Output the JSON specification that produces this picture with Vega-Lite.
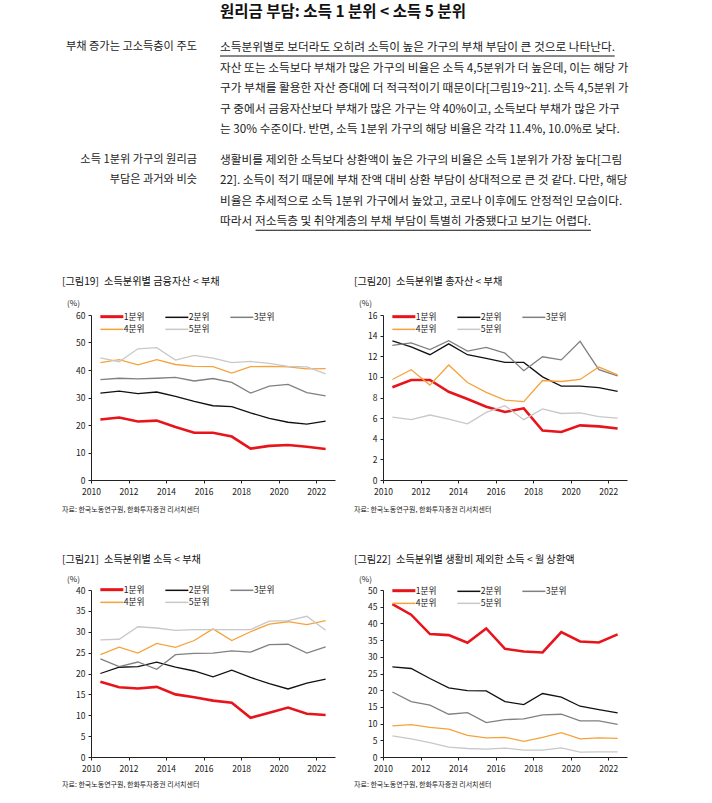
{
  "$schema": "https://vega.github.io/schema/vega-lite/v6.json",
  "background": "white",
  "padding": {"left": 62, "top": 0, "right": 10, "bottom": 10},
  "autosize": {"type": "pad"},
  "datasets": {
    "txt": [
      {"part": "header", "line": -0.71, "text": "원리금 부담: 소득 1 분위 < 소득 5 분위"},
      {"part": "label", "line": 1, "text": "부채 증가는 고소득층이 주도"},
      {"part": "body", "line": 1, "text": "소득분위별로 보더라도 오히려 소득이 높은 가구의 부채 부담이 큰 것으로 나타난다."},
      {"part": "body", "line": 2, "text": "자산 또는 소득보다 부채가 많은 가구의 비율은 소득 4,5분위가 더 높은데, 이는 해당 가"},
      {"part": "body", "line": 3, "text": "구가 부채를 활용한 자산 증대에 더 적극적이기 때문이다[그림19~21]. 소득 4,5분위 가"},
      {"part": "body", "line": 4, "text": "구 중에서 금융자산보다 부채가 많은 가구는 약 40%이고, 소득보다 부채가 많은 가구"},
      {"part": "body", "line": 5, "text": "는 30% 수준이다. 반면, 소득 1분위 가구의 해당 비율은 각각 11.4%, 10.0%로 낮다."},
      {"part": "label", "line": 6.5, "text": "소득 1분위 가구의 원리금"},
      {"part": "label", "line": 7.5, "text": "부담은 과거와 비슷"},
      {"part": "body", "line": 6.5, "text": "생활비를 제외한 소득보다 상환액이 높은 가구의 비율은 소득 1분위가 가장 높다[그림"},
      {"part": "body", "line": 7.5, "text": "22]. 소득이 적기 때문에 부채 잔액 대비 상환 부담이 상대적으로 큰 것 같다. 다만, 해당"},
      {"part": "body", "line": 8.5, "text": "비율은 추세적으로 소득 1분위 가구에서 높았고, 코로나 이후에도 안정적인 모습이다."},
      {"part": "body", "line": 9.5, "text": "따라서 저소득층 및 취약계층의 부채 부담이 특별히 가중됐다고 보기는 어렵다."}
    ],
    "ul": [
      {"line": 1, "from": 0, "to": 0.965},
      {"line": 9.5, "from": 0.087, "to": 0.907}
    ],
    "d19": [
      {"year": 2010, "1분위": 22.0, "2분위": 31.6, "3분위": 36.5, "4분위": 42.7, "5분위": 44.4},
      {"year": 2011, "1분위": 22.7, "2분위": 32.3, "3분위": 37.0, "4분위": 43.8, "5분위": 43.0},
      {"year": 2012, "1분위": 21.3, "2분위": 31.4, "3분위": 36.8, "4분위": 41.9, "5분위": 47.7},
      {"year": 2013, "1분위": 21.6, "2분위": 32.0, "3분위": 37.0, "4분위": 43.8, "5분위": 48.1},
      {"year": 2014, "1분위": 19.3, "2분위": 30.4, "3분위": 37.3, "4분위": 42.0, "5분위": 43.6},
      {"year": 2015, "1분위": 17.2, "2분위": 28.6, "3분위": 36.0, "4분위": 41.3, "5분위": 45.3},
      {"year": 2016, "1분위": 17.2, "2분위": 27.0, "3분위": 36.9, "4분위": 41.2, "5분위": 44.3},
      {"year": 2017, "1분위": 15.8, "2분위": 26.7, "3분위": 35.5, "4분위": 38.9, "5분위": 42.7},
      {"year": 2018, "1분위": 11.4, "2분위": 24.4, "3분위": 31.6, "4분위": 41.2, "5분위": 43.1},
      {"year": 2019, "1분위": 12.4, "2분위": 22.4, "3분위": 34.1, "4분위": 41.3, "5분위": 42.4},
      {"year": 2020, "1분위": 12.7, "2분위": 21.0, "3분위": 34.8, "4분위": 41.1, "5분위": 41.3},
      {"year": 2021, "1분위": 12.1, "2분위": 20.3, "3분위": 31.8, "4분위": 40.4, "5분위": 41.1},
      {"year": 2022, "1분위": 11.3, "2분위": 21.4, "3분위": 30.6, "4분위": 40.5, "5분위": 38.6}
    ],
    "d20": [
      {"year": 2010, "1분위": 9.0, "2분위": 13.5, "3분위": 13.05, "4분위": 9.75, "5분위": 6.1},
      {"year": 2011, "1분위": 9.7, "2분위": 12.9, "3분위": 13.3, "4분위": 10.7, "5분위": 5.85},
      {"year": 2012, "1분위": 9.7, "2분위": 12.15, "3분위": 12.65, "4분위": 9.2, "5분위": 6.3},
      {"year": 2013, "1분위": 8.55, "2분위": 13.2, "3분위": 13.5, "4분위": 11.15, "5분위": 5.9},
      {"year": 2014, "1분위": 7.85, "2분위": 12.15, "3분위": 12.5, "4분위": 9.45, "5분위": 5.45},
      {"year": 2015, "1분위": 7.1, "2분위": 11.8, "3분위": 12.85, "4분위": 8.5, "5분위": 6.55},
      {"year": 2016, "1분위": 6.6, "2분위": 11.4, "3분위": 12.3, "4분위": 7.75, "5분위": 7.2},
      {"year": 2017, "1분위": 6.95, "2분위": 11.4, "3분위": 10.6, "4분위": 7.6, "5분위": 5.85},
      {"year": 2018, "1분위": 4.8, "2분위": 10.0, "3분위": 11.95, "4분위": 9.65, "5분위": 6.9},
      {"year": 2019, "1분위": 4.65, "2분위": 9.1, "3분위": 11.65, "4분위": 9.55, "5분위": 6.45},
      {"year": 2020, "1분위": 5.3, "2분위": 9.1, "3분위": 13.45, "4분위": 9.75, "5분위": 6.5},
      {"year": 2021, "1분위": 5.2, "2분위": 8.95, "3분위": 10.7, "4분위": 10.95, "5분위": 6.15},
      {"year": 2022, "1분위": 5.0, "2분위": 8.6, "3분위": 10.1, "4분위": 10.2, "5분위": 6.0}
    ],
    "d21": [
      {"year": 2010, "1분위": 18.0, "2분위": 20.0, "3분위": 23.5, "4분위": 24.5, "5분위": 28.05},
      {"year": 2011, "1분위": 16.7, "2분위": 21.5, "3분위": 21.65, "4분위": 26.3, "5분위": 28.2},
      {"year": 2012, "1분위": 16.4, "2분위": 21.65, "3분위": 22.75, "4분위": 24.9, "5분위": 31.2},
      {"year": 2013, "1분위": 16.8, "2분위": 22.7, "3분위": 21.0, "4분위": 27.2, "5분위": 30.9},
      {"year": 2014, "1분위": 15.0, "2분위": 21.5, "3분위": 24.5, "4분위": 26.25, "5분위": 30.35},
      {"year": 2015, "1분위": 14.3, "2분위": 20.6, "3분위": 24.8, "4분위": 27.9, "5분위": 30.5},
      {"year": 2016, "1분위": 13.5, "2분위": 19.2, "3분위": 24.9, "4분위": 30.7, "5분위": 30.5},
      {"year": 2017, "1분위": 13.0, "2분위": 20.8, "3분위": 25.4, "4분위": 27.9, "5분위": 30.5},
      {"year": 2018, "1분위": 9.4, "2분위": 19.05, "3분위": 25.1, "4분위": 30.0, "5분위": 30.5},
      {"year": 2019, "1분위": 10.6, "2분위": 17.6, "3분위": 26.9, "4분위": 31.85, "5분위": 32.55},
      {"year": 2020, "1분위": 11.85, "2분위": 16.3, "3분위": 27.0, "4분위": 32.4, "5분위": 32.65},
      {"year": 2021, "1분위": 10.35, "2분위": 17.7, "3분위": 24.9, "4분위": 31.7, "5분위": 33.7},
      {"year": 2022, "1분위": 10.05, "2분위": 18.65, "3분위": 26.4, "4분위": 32.65, "5분위": 30.35}
    ],
    "d22": [
      {"year": 2010, "1분위": 45.8, "2분위": 27.0, "3분위": 19.45, "4분위": 9.3, "5분위": 6.3},
      {"year": 2011, "1분위": 42.6, "2분위": 26.5, "3분위": 16.6, "4분위": 9.7, "5분위": 5.4},
      {"year": 2012, "1분위": 36.8, "2분위": 23.5, "3분위": 15.5, "4분위": 8.85, "5분위": 4.3},
      {"year": 2013, "1분위": 36.5, "2분위": 20.7, "3분위": 12.8, "4분위": 8.35, "5분위": 2.95},
      {"year": 2014, "1분위": 34.2, "2분위": 19.9, "3분위": 13.3, "4분위": 6.5, "5분위": 2.55},
      {"year": 2015, "1분위": 38.5, "2분위": 19.8, "3분위": 10.3, "4분위": 5.7, "5분위": 2.35},
      {"year": 2016, "1분위": 32.4, "2분위": 16.6, "3분위": 11.2, "4분위": 5.9, "5분위": 2.65},
      {"year": 2017, "1분위": 31.6, "2분위": 15.7, "3분위": 11.4, "4분위": 4.7, "5분위": 2.05},
      {"year": 2018, "1분위": 31.3, "2분위": 19.0, "3분위": 12.6, "4분위": 5.9, "5분위": 2.05},
      {"year": 2019, "1분위": 37.4, "2분위": 17.9, "3분위": 12.8, "4분위": 7.3, "5분위": 2.75},
      {"year": 2020, "1분위": 34.6, "2분위": 15.2, "3분위": 10.8, "4분위": 5.4, "5분위": 1.45},
      {"year": 2021, "1분위": 34.3, "2분위": 14.2, "3분위": 10.8, "4분위": 5.7, "5분위": 1.55},
      {"year": 2022, "1분위": 36.7, "2분위": 13.2, "3분위": 9.8, "4분위": 5.6, "5분위": 1.55}
    ],
    "src": [{"src": "자료: 한국노동연구원, 한화투자증권 리서치센터"}]
  },
  "bounds": "flush",
  "columns": 2,
  "spacing": {"row": 110, "column": 48},
  "resolve": {"scale": {"color": "independent"}, "legend": {"color": "independent"}},
  "concat": [
    {
      "width": 244,
      "height": 205,
      "layer": [
        {
          "data": {"name": "txt"},
          "transform": [{"filter": "datum.part == 'header'"}],
          "mark": {"type": "text", "align": "left", "baseline": "middle", "x": 129, "fontSize": 15.5, "fontWeight": "bold", "color": "#111"},
          "encoding": {
            "y": {"field": "line", "type": "quantitative", "scale": {"domain": [-1.2927, 8.7073], "reverse": true, "zero": false, "nice": false}, "axis": null},
            "text": {"field": "text"}
          }
        },
        {
          "data": {"name": "txt"},
          "transform": [{"filter": "datum.part == 'label'"}],
          "mark": {"type": "text", "align": "right", "baseline": "middle", "x": 106, "fontSize": 11.2, "color": "#222"},
          "encoding": {
            "y": {"field": "line", "type": "quantitative"},
            "text": {"field": "text"}
          }
        },
        {
          "data": {"name": "txt"},
          "transform": [{"filter": "datum.part == 'body'"}],
          "mark": {"type": "text", "align": "left", "baseline": "middle", "x": 129, "fontSize": 11.7, "color": "#222"},
          "encoding": {
            "y": {"field": "line", "type": "quantitative"},
            "text": {"field": "text"}
          }
        },
        {
          "data": {"name": "ul"},
          "mark": {"type": "rule", "yOffset": 9, "color": "#111", "strokeWidth": 1},
          "encoding": {
            "x": {"field": "from", "type": "quantitative", "scale": {"domain": [0, 1], "range": [129, 538], "nice": false, "zero": false}, "axis": null},
            "x2": {"field": "to"},
            "y": {"field": "line", "type": "quantitative"}
          }
        }
      ]
    },
    {
      "width": 244,
      "height": 205,
      "data": {"values": [{"t": ""}]},
      "mark": {"type": "text"},
      "encoding": {"text": {"field": "t"}}
    },
    {
      "width": 244,
      "height": 165,
      "title": {"text": "[그림19]\u2002소득분위별 금융자산 < 부채", "anchor": "start", "frame": "group", "dx": -29, "offset": 12},
      "layer": [
        {
          "data": {"name": "d19"},
          "transform": [{"fold": ["1분위", "2분위", "3분위", "4분위", "5분위"], "as": ["grp", "v"]}],
          "mark": {"type": "line"},
          "encoding": {
            "x": {"field": "year", "type": "ordinal", "scale": {"type": "point", "padding": 0.5}, "axis": {"values": [2010, 2012, 2014, 2016, 2018, 2020, 2022], "labelAngle": 0, "tickOffset": -9.4, "title": null, "labelPadding": 4}},
            "y": {"field": "v", "type": "quantitative", "scale": {"domain": [0, 60]}, "axis": {"values": [0, 10, 20, 30, 40, 50, 60], "title": "(%)"}},
            "color": {"field": "grp", "type": "nominal", "scale": {"domain": ["1분위", "2분위", "3분위", "4분위", "5분위"], "range": ["#e8141b", "#111111", "#808080", "#f6a23c", "#c8c8c8"]}, "legend": {"legendX": 16.5, "legendY": -3, "symbolStrokeWidth": {"expr": "datum.value == '1분위' ? 3 : 1.5"}}},
            "strokeWidth": {"condition": {"test": "datum.grp == '1분위'", "value": 2.6}, "value": 1.3}
          }
        },
        {"data": {"values": [{}]}, "mark": {"type": "rule", "x": -31, "x2": "width", "y": -23, "color": "#111", "strokeWidth": 1.2}, "encoding": {}},
        {"data": {"values": [{}]}, "mark": {"type": "rule", "x": -31, "x2": "width", "y": "height", "yOffset": 23, "color": "#111", "strokeWidth": 1}, "encoding": {}},
        {"data": {"name": "src"}, "mark": {"type": "text", "align": "left", "baseline": "middle", "x": -29, "y": "height", "yOffset": 30, "fontSize": 7, "color": "#222"}, "encoding": {"text": {"field": "src"}}}
      ]
    },
    {
      "width": 244,
      "height": 165,
      "title": {"text": "[그림20]\u2002소득분위별 총자산 < 부채", "anchor": "start", "frame": "group", "dx": -29, "offset": 12},
      "layer": [
        {
          "data": {"name": "d20"},
          "transform": [{"fold": ["1분위", "2분위", "3분위", "4분위", "5분위"], "as": ["grp", "v"]}],
          "mark": {"type": "line"},
          "encoding": {
            "x": {"field": "year", "type": "ordinal", "scale": {"type": "point", "padding": 0.5}, "axis": {"values": [2010, 2012, 2014, 2016, 2018, 2020, 2022], "labelAngle": 0, "tickOffset": -9.4, "title": null, "labelPadding": 4}},
            "y": {"field": "v", "type": "quantitative", "scale": {"domain": [0, 16]}, "axis": {"values": [0, 2, 4, 6, 8, 10, 12, 14, 16], "title": "(%)"}},
            "color": {"field": "grp", "type": "nominal", "scale": {"domain": ["1분위", "2분위", "3분위", "4분위", "5분위"], "range": ["#e8141b", "#111111", "#808080", "#f6a23c", "#c8c8c8"]}, "legend": {"legendX": 16.5, "legendY": -3, "symbolStrokeWidth": {"expr": "datum.value == '1분위' ? 3 : 1.5"}}},
            "strokeWidth": {"condition": {"test": "datum.grp == '1분위'", "value": 2.6}, "value": 1.3}
          }
        },
        {"data": {"values": [{}]}, "mark": {"type": "rule", "x": -31, "x2": "width", "y": -23, "color": "#111", "strokeWidth": 1.2}, "encoding": {}},
        {"data": {"values": [{}]}, "mark": {"type": "rule", "x": -31, "x2": "width", "y": "height", "yOffset": 23, "color": "#111", "strokeWidth": 1}, "encoding": {}},
        {"data": {"name": "src"}, "mark": {"type": "text", "align": "left", "baseline": "middle", "x": -29, "y": "height", "yOffset": 30, "fontSize": 7, "color": "#222"}, "encoding": {"text": {"field": "src"}}}
      ]
    },
    {
      "width": 244,
      "height": 167,
      "title": {"text": "[그림21]\u2002소득분위별 소득 < 부채", "anchor": "start", "frame": "group", "dx": -29, "offset": 10},
      "layer": [
        {
          "data": {"name": "d21"},
          "transform": [{"fold": ["1분위", "2분위", "3분위", "4분위", "5분위"], "as": ["grp", "v"]}],
          "mark": {"type": "line"},
          "encoding": {
            "x": {"field": "year", "type": "ordinal", "scale": {"type": "point", "padding": 0.5}, "axis": {"values": [2010, 2012, 2014, 2016, 2018, 2020, 2022], "labelAngle": 0, "tickOffset": -9.4, "title": null, "labelPadding": 4}},
            "y": {"field": "v", "type": "quantitative", "scale": {"domain": [0, 40]}, "axis": {"values": [0, 5, 10, 15, 20, 25, 30, 35, 40], "title": "(%)", "titleY": -11}},
            "color": {"field": "grp", "type": "nominal", "scale": {"domain": ["1분위", "2분위", "3분위", "4분위", "5분위"], "range": ["#e8141b", "#111111", "#808080", "#f6a23c", "#c8c8c8"]}, "legend": {"legendX": 16.5, "legendY": -5, "symbolStrokeWidth": {"expr": "datum.value == '1분위' ? 3 : 1.5"}}},
            "strokeWidth": {"condition": {"test": "datum.grp == '1분위'", "value": 2.6}, "value": 1.3}
          }
        },
        {"data": {"values": [{}]}, "mark": {"type": "rule", "x": -31, "x2": "width", "y": -22, "color": "#111", "strokeWidth": 1.2}, "encoding": {}},
        {"data": {"values": [{}]}, "mark": {"type": "rule", "x": -31, "x2": "width", "y": "height", "yOffset": 21, "color": "#111", "strokeWidth": 1}, "encoding": {}},
        {"data": {"name": "src"}, "mark": {"type": "text", "align": "left", "baseline": "middle", "x": -29, "y": "height", "yOffset": 28, "fontSize": 7, "color": "#222"}, "encoding": {"text": {"field": "src"}}}
      ]
    },
    {
      "width": 244,
      "height": 167,
      "title": {"text": "[그림22]\u2002소득분위별 생활비 제외한 소득 < 월 상환액", "anchor": "start", "frame": "group", "dx": -29, "offset": 10},
      "layer": [
        {
          "data": {"name": "d22"},
          "transform": [{"fold": ["1분위", "2분위", "3분위", "4분위", "5분위"], "as": ["grp", "v"]}],
          "mark": {"type": "line"},
          "encoding": {
            "x": {"field": "year", "type": "ordinal", "scale": {"type": "point", "padding": 0.5}, "axis": {"values": [2010, 2012, 2014, 2016, 2018, 2020, 2022], "labelAngle": 0, "tickOffset": -9.4, "title": null, "labelPadding": 4}},
            "y": {"field": "v", "type": "quantitative", "scale": {"domain": [0, 50]}, "axis": {"values": [0, 5, 10, 15, 20, 25, 30, 35, 40, 45, 50], "title": "(%)", "titleY": -11}},
            "color": {"field": "grp", "type": "nominal", "scale": {"domain": ["1분위", "2분위", "3분위", "4분위", "5분위"], "range": ["#e8141b", "#111111", "#808080", "#f6a23c", "#c8c8c8"]}, "legend": {"legendX": 16.5, "legendY": -4, "symbolStrokeWidth": {"expr": "datum.value == '1분위' ? 3 : 1.5"}}},
            "strokeWidth": {"condition": {"test": "datum.grp == '1분위'", "value": 2.6}, "value": 1.3}
          }
        },
        {"data": {"values": [{}]}, "mark": {"type": "rule", "x": -31, "x2": "width", "y": -22, "color": "#111", "strokeWidth": 1.2}, "encoding": {}},
        {"data": {"values": [{}]}, "mark": {"type": "rule", "x": -31, "x2": "width", "y": "height", "yOffset": 21, "color": "#111", "strokeWidth": 1}, "encoding": {}},
        {"data": {"name": "src"}, "mark": {"type": "text", "align": "left", "baseline": "middle", "x": -29, "y": "height", "yOffset": 28, "fontSize": 7, "color": "#222"}, "encoding": {"text": {"field": "src"}}}
      ]
    }
  ],
  "config": {
    "font": "Noto Sans CJK KR",
    "view": {"stroke": null},
    "axis": {"grid": false, "domainColor": "#222", "tickColor": "#222", "labelColor": "#222", "labelFontSize": 8.5, "tickSize": 3, "labelPadding": 3, "domainWidth": 1, "tickWidth": 1, "titleFontSize": 8, "titleFontWeight": "normal", "titleColor": "#222"},
    "axisY": {"titleAngle": 0, "titleX": -18, "titleY": -12, "titleAlign": "center", "titleBaseline": "middle"},
    "legend": {"orient": "none", "direction": "horizontal", "columns": 3, "symbolType": "stroke", "symbolSize": 529, "labelFontSize": 8.7, "labelColor": "#222", "labelOffset": 7.5, "columnPadding": 16, "rowPadding": 2, "padding": 0, "title": null},
    "title": {"fontSize": 10.2, "fontWeight": "normal", "color": "#111"}
  }
}
